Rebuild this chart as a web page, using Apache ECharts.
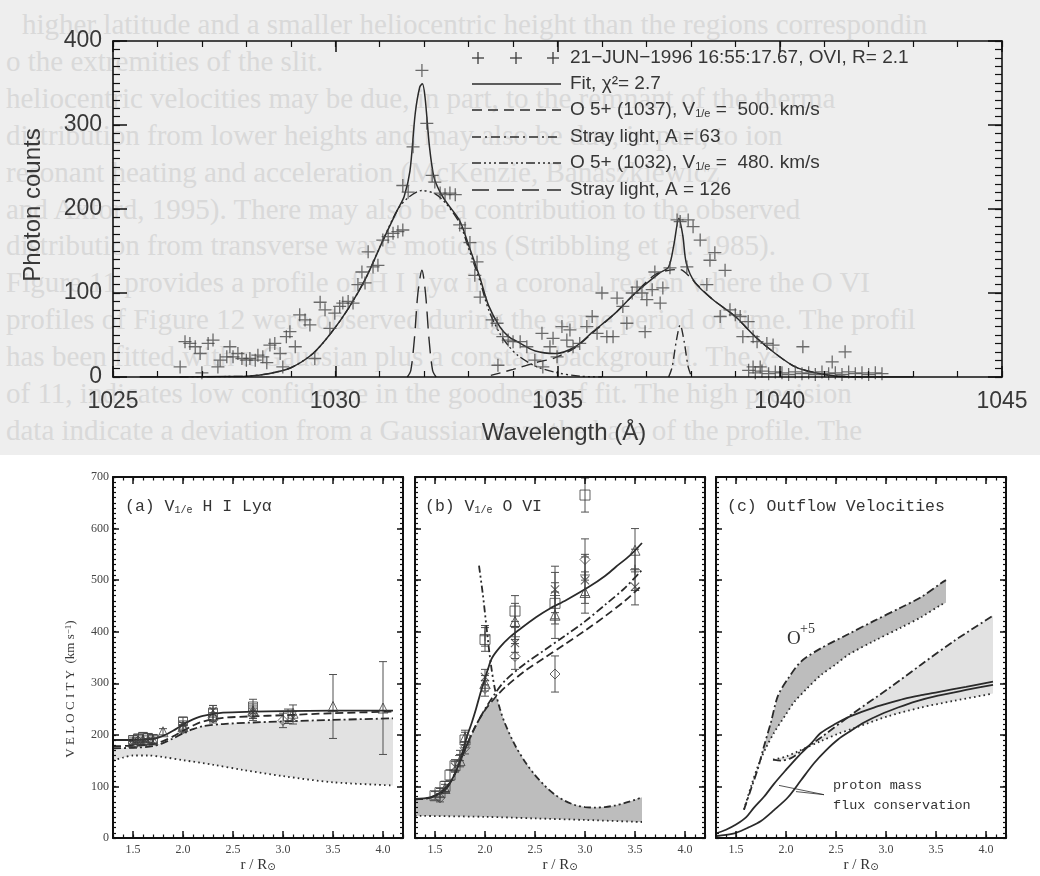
<!DOCTYPE html>
<html>
<head>
<meta charset="utf-8">
<title>O VI spectrum and coronal outflow velocities</title>
<script src="https://cdn.jsdelivr.net/npm/echarts@6/dist/echarts.min.js"></script>
<style>
  html, body { margin: 0; padding: 0; background: #ffffff; }
  #wrap { position: relative; width: 1040px; height: 876px; background: #ffffff; overflow: hidden; }
  #page { position: absolute; left: 0; top: 0; width: 1040px; height: 455px; background: #eeeeee; overflow: hidden;
          font: 29px "Liberation Serif", "DejaVu Serif", serif; color: #d9d9d9; }
  #page div { position: absolute; white-space: nowrap; line-height: 30px; }
  #chart { position: absolute; left: 0; top: 0; width: 1040px; height: 876px; }
</style>
</head>
<body>
<div id="wrap">
  <div id="page"></div>
  <div id="chart"></div>
</div>
<script>
// ---------- Upper panel: O VI doublet spectrum (wavelength in Å, photon counts) ----------
const spectrumPoints = [
  [1026.51,12],[1026.62,42],[1026.73,40],[1026.85,36],[1026.96,28],[1027.0,5],[1027.14,40],[1027.25,44],
  [1027.36,12],[1027.41,20],[1027.56,24],[1027.63,36],[1027.7,24],[1027.81,28],[1027.9,22],[1028.0,20],
  [1028.08,22],[1028.2,20],[1028.26,26],[1028.37,24],[1028.46,17],[1028.53,38],[1028.64,40],[1028.76,28],
  [1028.82,12],[1028.9,48],[1028.98,54],[1029.1,36],[1029.2,74],[1029.32,68],[1029.43,62],[1029.54,22],
  [1029.66,89],[1029.77,80],[1029.88,58],[1029.99,76],[1030.1,84],[1030.17,88],[1030.29,90],[1030.4,88],
  [1030.51,110],[1030.6,125],[1030.67,112],[1030.74,149],[1030.85,131],[1030.96,133],[1031.07,163],
  [1031.19,167],[1031.3,171],[1031.41,173],[1031.52,175],[1031.52,228],[1031.64,220],[1031.75,274],
  [1031.95,365],[1032.06,302],[1032.18,240],[1032.24,232],[1032.36,219],[1032.47,217],[1032.58,219],
  [1032.7,217],[1032.8,181],[1032.92,177],[1033.03,160],[1033.14,121],[1033.19,137],[1033.26,95],
  [1033.53,68],[1033.64,64],[1033.66,14],[1033.77,48],[1033.89,44],[1034.0,42],[1034.16,42],[1034.31,36],
  [1034.49,20],[1034.65,52],[1034.67,12],[1034.83,36],[1034.9,46],[1034.99,24],[1035.1,60],[1035.21,44],
  [1035.28,56],[1035.35,36],[1035.5,40],[1035.66,60],[1035.78,72],[1035.89,52],[1036.0,100],[1036.11,48],
  [1036.25,48],[1036.34,94],[1036.47,84],[1036.56,64],[1036.68,100],[1036.79,107],[1036.9,100],
  [1036.97,54],[1037.01,92],[1037.13,104],[1037.19,125],[1037.31,88],[1037.37,106],[1037.53,130],
  [1037.69,187],[1037.76,185],[1037.91,131],[1037.94,187],[1038.05,179],[1038.21,163],[1038.36,110],
  [1038.43,139],[1038.54,148],[1038.66,72],[1038.77,127],[1038.88,80],[1039.0,74],[1039.11,72],
  [1039.17,48],[1039.29,66],[1039.4,48],[1039.49,42],[1039.71,40],[1039.85,38],[1039.4,12],[1039.56,12],
  [1040.52,36],[1041.18,18],[1041.47,30],
  [1039.3,8],[1039.45,5],[1039.6,7],[1039.75,4],[1039.9,6],[1040.05,5],[1040.2,3],[1040.35,6],[1040.5,4],
  [1040.65,5],[1040.8,3],[1040.95,6],[1041.1,4],[1041.25,5],[1041.4,3],[1041.55,6],[1041.7,4],[1041.85,5],
  [1042.0,3],[1042.15,5],[1042.3,4]
];
const fitCurve = [
  [1025.6,0],[1026.5,0],[1027.5,0.5],[1028,1],[1028.5,4],[1029,11],[1029.5,28],[1029.9,52],[1030.3,82],
  [1030.7,119],[1031.05,160],[1031.4,199],[1031.55,215],[1031.68,245],[1031.8,314],[1031.9,345],
  [1031.96,349],[1032.02,333],[1032.12,274],[1032.22,238],[1032.35,221],[1032.5,208],[1032.8,186],
  [1033.0,157],[1033.25,119],[1033.45,85],[1033.7,60],[1033.9,48],[1034.1,42],[1034.5,31],[1034.95,28],
  [1035.4,36],[1035.8,54],[1036.3,76],[1036.75,100],[1037.3,124],[1037.5,131],[1037.62,158],[1037.73,189],
  [1037.82,168],[1037.9,135],[1038.1,112],[1038.5,92],[1039.0,72],[1039.45,48],[1039.9,28],[1040.35,12],
  [1040.8,5],[1041.3,1],[1042,0],[1043,0]
];
const o5Broad1037 = [
  [1033.5,2],[1034.0,9],[1034.5,17],[1034.95,23],[1035.4,35],[1035.8,53],[1036.3,76],[1036.75,100],
  [1037.2,122],[1037.5,127],[1037.75,128],[1038.0,118],[1038.1,112],[1038.5,92],[1039.0,72],[1039.45,48],
  [1039.9,28],[1040.35,12],[1040.8,5],[1041.3,1],[1042,0]
];
const stray63 = [[1037.5,0],[1037.58,12],[1037.67,42],[1037.76,62],[1037.85,42],[1037.94,12],[1038.02,0]];
const o5Broad1032 = [
  [1026.5,0],[1027.5,0.5],[1028,1],[1028.5,4],[1029,11],[1029.5,28],[1029.9,52],[1030.3,82],[1030.7,119],
  [1031.05,160],[1031.4,199],[1031.65,214],[1031.95,222],[1032.25,218],[1032.5,206],[1032.8,183],
  [1033.0,153],[1033.25,115],[1033.45,80],[1033.7,52],[1033.9,37],[1034.1,26],[1034.5,13],[1035.0,5],
  [1035.5,1],[1036.0,0]
];
const stray126 = [[1031.62,0],[1031.7,8],[1031.78,45],[1031.86,100],[1031.95,127],[1032.03,100],[1032.11,45],[1032.19,8],[1032.27,0]];

// ---------- Lower panels: velocity (km/s) against r / R_sun ----------
const R_TICKS = [1.5, 2.0, 2.5, 3.0, 3.5, 4.0];

// (a) H I Ly-alpha, points as [r, v, error]
const aSquares   = [[1.5,190,8],[1.55,193,8],[1.6,196,8],[1.65,194,8],[1.7,192,8],[2.0,226,8],[2.3,243,14],[2.7,255,14],[3.05,236,14]];
const aTriangles = [[1.5,186,8],[1.6,190,8],[1.7,190,8],[1.8,206,6],[2.0,216,8],[2.3,238,12],[2.7,246,14],[3.1,242,16],[3.5,255,62],[4.0,252,90]];
const aDiamonds  = [[1.55,188,6],[1.65,187,6],[2.0,212,8],[2.3,233,10],[2.7,240,12],[3.0,228,14]];
const aCrosses   = [[1.5,181,6],[1.6,185,6],[1.7,188,6],[2.0,219,8],[2.3,247,10],[2.7,244,12],[3.1,233,12]];
const aSolid   = [[1.3,190],[1.5,190],[1.7,192],[1.8,198],[1.9,208],[2.0,220],[2.1,230],[2.2,237],[2.4,243],[2.7,245],[3.0,246],[3.5,247],[4.1,247]];
const aDashed  = [[1.3,178],[1.5,179],[1.7,182],[1.8,188],[1.9,197],[2.0,208],[2.1,218],[2.2,226],[2.4,233],[2.7,236],[3.0,238],[3.5,242],[4.1,245]];
const aDashDot = [[1.3,174],[1.5,175],[1.7,178],[1.8,184],[1.9,193],[2.0,203],[2.1,211],[2.2,217],[2.4,221],[2.7,224],[3.0,226],[3.5,229],[4.1,232]];
const aDotted  = [[1.3,150],[1.4,156],[1.5,160],[1.65,160],[1.8,157],[2.0,151],[2.3,142],[2.6,132],[3.0,120],[3.5,108],[4.1,102]];

// (b) O VI
const bSquares   = [[1.5,82,8],[1.55,88,8],[1.6,100,10],[1.65,122,10],[1.7,140,12],[1.8,190,15],[2.0,385,23],[2.3,440,30],[2.7,455,40],[3.0,665,33]];
const bTriangles = [[1.6,96,8],[1.75,150,12],[1.8,195,14],[2.0,300,15],[2.3,420,35],[2.7,432,45],[3.0,476,40],[3.5,558,42]];
const bDiamonds  = [[1.55,78,8],[1.8,175,12],[2.0,290,15],[2.3,352,25],[2.7,318,35],[3.0,540,40]];
const bCrosses   = [[1.7,138,10],[2.0,312,15],[2.3,378,30],[2.7,482,45],[3.0,500,45],[3.5,487,35]];
const bPluses    = [[1.75,160,10],[2.0,392,20],[2.3,390,30],[2.7,470,45],[3.0,510,40],[3.5,520,40]];
const bSolid   = [[1.3,76],[1.45,79],[1.55,88],[1.64,105],[1.7,125],[1.74,145],[1.78,170],[1.82,197],[1.87,225],[1.91,250],[1.95,278],[1.99,303],[2.03,328],[2.07,349],[2.15,370],[2.24,388],[2.35,405],[2.51,428],[2.65,445],[2.81,461],[3.04,487],[3.2,508],[3.31,526],[3.45,548],[3.57,572]];
const bDashed  = [[1.3,75],[1.45,78],[1.6,93],[1.7,125],[1.8,172],[1.9,215],[2.0,248],[2.1,272],[2.2,292],[2.4,324],[2.6,350],[2.8,376],[3.0,402],[3.2,430],[3.4,460],[3.57,490]];
const bDashDot = [[1.3,75],[1.45,78],[1.6,93],[1.7,125],[1.8,172],[1.9,215],[2.0,250],[2.1,280],[2.2,305],[2.4,338],[2.6,365],[2.8,392],[3.0,420],[3.2,452],[3.4,485],[3.57,520]];
const bSteep   = [[1.94,528],[1.98,470],[2.02,400],[2.06,335],[2.1,288],[2.15,250],[2.2,222],[2.3,180],[2.4,148],[2.5,122],[2.6,101],[2.7,84],[2.8,72],[2.9,64],[3.0,60],[3.1,59],[3.2,60],[3.3,63],[3.4,68],[3.5,74],[3.57,79]];
const bFillTop = [[1.3,75],[1.45,78],[1.6,93],[1.7,125],[1.8,172],[1.9,215],[2.0,248],[2.08,268],[2.12,272],[2.15,250],[2.2,222],[2.3,180],[2.4,148],[2.5,122],[2.6,101],[2.7,84],[2.8,72],[2.9,64],[3.0,60],[3.1,59],[3.2,60],[3.3,63],[3.4,68],[3.5,74],[3.57,79]];
const bDotted  = [[1.3,43],[2.0,41],[2.5,38],[3.0,35],[3.57,31]];

// (c) outflow velocities
const o5Upper = [[1.58,55],[1.65,95],[1.72,135],[1.78,178],[1.85,225],[1.92,276],[2.02,309],[2.15,342],[2.35,368],[2.62,395],[2.88,421],[3.15,447],[3.35,467],[3.55,494],[3.6,500]];
const o5Lower = [[1.58,55],[1.65,100],[1.73,145],[1.8,175],[1.88,204],[2.0,240],[2.08,263],[2.2,288],[2.35,316],[2.5,337],[2.62,355],[2.88,382],[3.15,408],[3.35,428],[3.55,452],[3.6,456]];
const h0Upper = [[1.87,152],[1.95,150],[2.05,155],[2.15,168],[2.35,195],[2.68,243],[3.02,289],[3.35,336],[3.68,382],[4.07,431]];
const h0Lower = [[1.87,152],[2.0,158],[2.12,168],[2.35,188],[2.52,202],[2.68,213],[3.02,236],[3.35,253],[3.68,266],[4.07,280]];
const protonFluxA = [[1.27,7],[1.4,16],[1.5,26],[1.6,40],[1.68,59],[1.78,80],[1.88,105],[2.0,132],[2.12,158],[2.25,183],[2.35,204],[2.5,222],[2.62,234],[2.75,244],[2.88,253],[3.0,260],[3.18,270],[3.35,277],[3.52,283],[3.8,293],[4.07,303]];
const protonFluxB = [[1.27,3],[1.4,6],[1.5,10],[1.62,20],[1.75,33],[1.88,54],[2.02,79],[2.15,112],[2.28,145],[2.4,170],[2.52,191],[2.65,208],[2.78,224],[2.95,240],[3.12,253],[3.3,265],[3.52,276],[3.8,287],[4.07,297]];
const pointerA = [[2.38,84],[1.93,102]];
const pointerB = [[2.38,84],[2.1,90]];

// Faint lines of body text printed behind the upper figure
const pageText = [
  'higher latitude and a smaller heliocentric height than the regions correspondin',
  'o the extremities of the slit.',
  'heliocentric velocities may be due, in part, to the remnant of the therma',
  'distribution from lower heights and may also be due, in part, to ion',
  'resonant heating and acceleration (McKenzie, Banaszkiewicz',
  'and Axford, 1995). There may also be a contribution to the observed',
  'distribution from transverse wave motions (Stribbling et al. 1985).',
  'Figure 11 provides a profile of H I Lyα in a coronal region where the O VI',
  'profiles of Figure 12 were observed during the same period of time. The profil',
  'has been fitted with a Gaussian plus a constant background. The χ²',
  'of 11, indicates low confidence in the goodness of fit. The high precision',
  'data indicate a deviation from a Gaussian near the base of the profile. The'
];

// print the faint page text in the layer behind the chart canvas
const pageEl = document.getElementById('page');
pageText.forEach((t, i) => {
  const d = document.createElement('div');
  d.textContent = t;
  d.style.left = (i === 0 ? 22 : 6) + 'px';
  d.style.top = (24 + i * 36.9 - 15) + 'px';
  pageEl.appendChild(d);
});

// ---------- styling helpers ----------
const SANS = '"Liberation Sans", Arial, sans-serif';
const SERIF = '"Liberation Serif", "DejaVu Serif", serif';
const MONO = '"Liberation Mono", "DejaVu Sans Mono", monospace';
const AX = '#111111';
const INK = '#2a2a2a';
const MARK = '#3c3c3c';
const DASH = [10, 6], DASHDOT = [9, 4, 2, 4], DASH3DOT = [9, 3, 2, 3, 2, 3, 2, 3], LONGDASH = [17, 8];
const P_DASH = [8, 4], P_DASHDOT = [8, 3, 2, 3], P_DASH3DOT = [7, 3, 2, 3, 2, 3], P_DOT = [1.6, 3.2];

const PLUS = 'path://M0,5.4H12V6.6H0Z M5.4,0H6.6V12H5.4Z';
const CROSS = 'path://M0,1L1,0L12,11L11,12Z M11,0L12,1L1,12L0,11Z';

function curve(data, xi, yi, dash, width, smooth) {
  return {
    type: 'line', data, xAxisIndex: xi, yAxisIndex: yi, showSymbol: false, symbol: 'none',
    smooth: smooth === undefined ? 0.3 : smooth, silent: true, z: 5,
    lineStyle: { color: INK, width: width || 1.6, type: dash || 'solid', cap: 'butt' }
  };
}
function points(data, xi, yi, symbol, size, hollow) {
  return {
    type: 'scatter', data: data.map(d => [d[0], d[1]]), xAxisIndex: xi, yAxisIndex: yi,
    symbol, symbolSize: size, silent: true, z: 6,
    itemStyle: hollow ? { color: 'rgba(0,0,0,0)', borderColor: MARK, borderWidth: 1 } : { color: MARK }
  };
}
function errorBars(data, xi, yi) {
  return {
    type: 'custom', data, xAxisIndex: xi, yAxisIndex: yi, encode: { x: 0, y: 1 }, silent: true, z: 4,
    renderItem(params, api) {
      const x = api.value(0), y = api.value(1), e = api.value(2);
      const hi = api.coord([x, y + e]), lo = api.coord([x, y - e]);
      const c = 4, st = { stroke: '#505050', lineWidth: 1 };
      return { type: 'group', children: [
        { type: 'line', shape: { x1: hi[0], y1: hi[1], x2: lo[0], y2: lo[1] }, style: st },
        { type: 'line', shape: { x1: hi[0] - c, y1: hi[1], x2: hi[0] + c, y2: hi[1] }, style: st },
        { type: 'line', shape: { x1: lo[0] - c, y1: lo[1], x2: lo[0] + c, y2: lo[1] }, style: st }
      ] };
    }
  };
}
function band(upper, lower, color, xi, yi) {
  return {
    type: 'custom', data: [upper[0]], xAxisIndex: xi, yAxisIndex: yi, encode: { x: 0, y: 1 }, silent: true, z: 1,
    renderItem(params, api) {
      const pts = upper.map(p => api.coord(p)).concat(lower.slice().reverse().map(p => api.coord(p)));
      return { type: 'polygon', shape: { points: pts }, style: { fill: color } };
    }
  };
}

// Axis factory: a "major" axis carries the frame line, long ticks and labels;
// a "minor" companion on the same side only adds the short ticks.
function makeAxis(o) {
  const ax = {
    type: 'value', gridIndex: o.grid, position: o.pos, min: o.min, max: o.max, interval: o.interval, z: 10,
    splitLine: { show: false },
    axisLine: { show: !!o.major, onZero: false, lineStyle: { color: AX, width: o.lineWidth || 1.6 } },
    axisTick: { show: true, inside: true, length: o.tickLen, lineStyle: { color: AX, width: o.major ? 1.5 : 1.2 } },
    axisLabel: { show: false }
  };
  if (o.customTicks) ax.axisTick.customValues = o.customTicks;
  if (o.label) ax.axisLabel = Object.assign({ show: true }, o.label);
  return ax;
}
const topLabel = { fontSize: 23, fontFamily: SANS, color: '#383838', formatter: v => String(v) };

function topXPair(pos, labels) {
  return [
    makeAxis({ grid: 0, pos, min: 1025, max: 1045, interval: 5, major: true, tickLen: 11,
      label: labels ? Object.assign({ margin: 13 }, topLabel) : null }),
    makeAxis({ grid: 0, pos, min: 1025, max: 1045, interval: 1, tickLen: 6 })
  ];
}
function topYPair(pos, labels) {
  return [
    makeAxis({ grid: 0, pos, min: 0, max: 400, interval: 100, major: true, tickLen: 14,
      label: labels ? Object.assign({ margin: 11 }, topLabel) : null }),
    makeAxis({ grid: 0, pos, min: 0, max: 400, interval: 10, tickLen: 7 })
  ];
}
const panelLabel = { fontFamily: SERIF, fontSize: 12, color: '#444' };
function panelXPair(grid, pos, labels) {
  return [
    makeAxis({ grid, pos, min: 1.3, max: 4.2, interval: 0.1, major: true, tickLen: 7, lineWidth: 2,
      customTicks: R_TICKS,
      label: labels ? Object.assign({ margin: 6, customValues: R_TICKS, formatter: v => Number(v).toFixed(1) }, panelLabel) : null }),
    makeAxis({ grid, pos, min: 1.3, max: 4.2, interval: 0.1, tickLen: 3.5 })
  ];
}
function panelYPair(grid, pos, labels) {
  return [
    makeAxis({ grid, pos, min: 0, max: 700, interval: 100, major: true, tickLen: 6, lineWidth: 2,
      label: labels ? Object.assign({ margin: 4 }, panelLabel) : null }),
    makeAxis({ grid, pos, min: 0, max: 700, interval: 10, tickLen: 3 })
  ];
}

// ---------- axis titles, legend and annotations ----------
const graphics = [];
graphics.push({ type: 'text', x: 33, y: 205, rotation: Math.PI / 2, silent: true,
  style: { text: 'Photon counts', font: '24px ' + SANS, fill: '#383838', textAlign: 'center', textVerticalAlign: 'middle' } });
graphics.push({ type: 'text', x: 564, y: 433, silent: true,
  style: { text: 'Wavelength (Å)', font: '24px ' + SANS, fill: '#383838', textAlign: 'center', textVerticalAlign: 'middle' } });

const legendRows = [
  { y: 58,  dash: null, text: '21\u2212JUN\u22121996 16:55:17.67, OVI, R= 2.1' },
  { y: 84,  dash: 'solid', text: 'Fit, \u03c7\u00b2= 2.7' },
  { y: 110, dash: DASH, text: 'O 5+ (1037), V{s|1/e} =  500. km/s' },
  { y: 137, dash: DASHDOT, text: 'Stray light, A = 63' },
  { y: 163, dash: DASH3DOT, text: 'O 5+ (1032), V{s|1/e} =  480. km/s' },
  { y: 190, dash: LONGDASH, text: 'Stray light, A = 126' }
];
legendRows.forEach(row => {
  if (row.dash) {
    graphics.push({ type: 'line', silent: true, shape: { x1: 472, y1: row.y, x2: 561, y2: row.y },
      style: { stroke: INK, lineWidth: 1.5, lineDash: row.dash === 'solid' ? null : row.dash } });
  } else {
    [478, 516, 553].forEach(px => {
      graphics.push({ type: 'line', silent: true, shape: { x1: px - 6, y1: row.y, x2: px + 6, y2: row.y }, style: { stroke: MARK, lineWidth: 1.3 } });
      graphics.push({ type: 'line', silent: true, shape: { x1: px, y1: row.y - 6, x2: px, y2: row.y + 6 }, style: { stroke: MARK, lineWidth: 1.3 } });
    });
  }
  graphics.push({ type: 'text', x: 570, y: row.y, silent: true,
    style: { text: row.text, font: '19px ' + SANS, fill: '#363636', textVerticalAlign: 'middle',
      rich: { s: { fontSize: 11, fontFamily: SANS, fill: '#363636', verticalAlign: 'bottom', lineHeight: 11 } } } });
});

// lower panel titles
[
  { x: 125, text: '(a) V{s|1/e} H I Ly\u03b1' },
  { x: 425, text: '(b) V{s|1/e} O VI' },
  { x: 727, text: '(c) Outflow Velocities' }
].forEach(t => {
  graphics.push({ type: 'text', x: t.x, y: 507, silent: true,
    style: { text: t.text, font: '16.5px ' + MONO, fill: '#333', textVerticalAlign: 'middle',
      rich: { s: { fontSize: 10, fontFamily: MONO, fill: '#333', verticalAlign: 'bottom', lineHeight: 10 } } } });
});
graphics.push({ type: 'text', x: 71, y: 689, rotation: Math.PI / 2, silent: true,
  style: { text: 'V E L O C I T Y  (km s{u|\u22121})', font: '13px ' + SERIF, fill: '#3a3a3a',
    textAlign: 'center', textVerticalAlign: 'middle',
    rich: { u: { fontSize: 9, fontFamily: SERIF, fill: '#3a3a3a', verticalAlign: 'top', lineHeight: 9 } } } });
[258, 560, 861].forEach(cx => {
  graphics.push({ type: 'text', x: cx, y: 865, silent: true,
    style: { text: 'r / R{s|\u2299}', font: '15px ' + SERIF, fill: '#333', textAlign: 'center', textVerticalAlign: 'middle',
      rich: { s: { fontSize: 10, fontFamily: '"DejaVu Sans", sans-serif', fill: '#333', verticalAlign: 'bottom', lineHeight: 10 } } } });
});
// panel (c) annotations
graphics.push({ type: 'text', x: 787, y: 639, silent: true, style: { text: 'O', font: '19px ' + SERIF, fill: '#333', textVerticalAlign: 'middle' } });
graphics.push({ type: 'text', x: 800, y: 629, silent: true, style: { text: '+5', font: '14px ' + SERIF, fill: '#333', textVerticalAlign: 'middle' } });
graphics.push({ type: 'text', x: 950, y: 670, silent: true, style: { text: 'H', font: '19px ' + SERIF, fill: '#333', textVerticalAlign: 'middle' } });
graphics.push({ type: 'text', x: 964, y: 662, silent: true, style: { text: '0', font: '14px ' + SERIF, fill: '#333', textVerticalAlign: 'middle' } });
graphics.push({ type: 'text', x: 833, y: 785, silent: true, style: { text: 'proton mass', font: '13.5px ' + MONO, fill: '#333', textVerticalAlign: 'middle' } });
graphics.push({ type: 'text', x: 833, y: 805, silent: true, style: { text: 'flux conservation', font: '13.5px ' + MONO, fill: '#333', textVerticalAlign: 'middle' } });

// ---------- assemble ----------
// xAxis: 0-3 spectrum (bottom major/minor, top major/minor), 4-7 panel a, 8-11 panel b, 12-15 panel c
// yAxis: 0-3 spectrum (left major/minor, right major/minor), 4-7 panel a, 8-11 panel b, 12-15 panel c
const xAxes = [].concat(
  topXPair('bottom', true), topXPair('top', false),
  panelXPair(1, 'bottom', true), panelXPair(1, 'top', false),
  panelXPair(2, 'bottom', true), panelXPair(2, 'top', false),
  panelXPair(3, 'bottom', true), panelXPair(3, 'top', false)
);
const yAxes = [].concat(
  topYPair('left', true), topYPair('right', false),
  panelYPair(1, 'left', true), panelYPair(1, 'right', false),
  panelYPair(2, 'left', false), panelYPair(2, 'right', false),
  panelYPair(3, 'left', false), panelYPair(3, 'right', false)
);

const option = {
  animation: false,
  backgroundColor: 'rgba(0,0,0,0)',
  textStyle: { fontFamily: SANS },
  grid: [
    { left: 113, top: 41, width: 889, height: 336 },
    { left: 113, top: 477, width: 290, height: 361 },
    { left: 415, top: 477, width: 290, height: 361 },
    { left: 716, top: 477, width: 290, height: 361 }
  ],
  xAxis: xAxes,
  yAxis: yAxes,
  graphic: { elements: graphics },
  series: [
    // spectrum
    curve(o5Broad1032, 0, 0, DASH3DOT, 1.4),
    curve(o5Broad1037, 0, 0, DASH, 1.4),
    curve(stray126, 0, 0, LONGDASH, 1.4),
    curve(stray63, 0, 0, DASHDOT, 1.4),
    curve(fitCurve, 0, 0, 'solid', 1.5),
    { type: 'scatter', data: spectrumPoints, xAxisIndex: 0, yAxisIndex: 0, symbol: PLUS, symbolSize: 13,
      silent: true, z: 6, itemStyle: { color: '#484848' } },

    // (a)
    band(aDashDot, aDotted, '#e2e2e2', 4, 4),
    curve(aDotted, 4, 4, P_DOT, 1.8),
    curve(aDashDot, 4, 4, P_DASHDOT, 1.8),
    curve(aDashed, 4, 4, P_DASH, 1.8),
    curve(aSolid, 4, 4, 'solid', 1.8),
    errorBars(aSquares, 4, 4), errorBars(aTriangles, 4, 4), errorBars(aDiamonds, 4, 4), errorBars(aCrosses, 4, 4),
    points(aSquares, 4, 4, 'rect', 9, true),
    points(aTriangles, 4, 4, 'triangle', 10, true),
    points(aDiamonds, 4, 4, 'diamond', 10, true),
    points(aCrosses, 4, 4, CROSS, 8, false),

    // (b)
    band(bFillTop, bDotted, '#bdbdbd', 8, 8),
    curve(bDotted, 8, 8, P_DOT, 1.8),
    curve(bSteep, 8, 8, P_DASH3DOT, 1.8),
    curve(bDashDot, 8, 8, P_DASHDOT, 1.8),
    curve(bDashed, 8, 8, P_DASH, 1.8),
    curve(bSolid, 8, 8, 'solid', 1.8),
    errorBars(bSquares, 8, 8), errorBars(bTriangles, 8, 8), errorBars(bDiamonds, 8, 8), errorBars(bCrosses, 8, 8), errorBars(bPluses, 8, 8),
    points(bSquares, 8, 8, 'rect', 10, true),
    points(bTriangles, 8, 8, 'triangle', 10, true),
    points(bDiamonds, 8, 8, 'diamond', 10, true),
    points(bCrosses, 8, 8, CROSS, 9, false),
    points(bPluses, 8, 8, PLUS, 10, false),

    // (c)
    band(o5Upper, o5Lower, '#bdbdbd', 12, 12),
    band(h0Upper, h0Lower, '#e2e2e2', 12, 12),
    curve(o5Lower, 12, 12, P_DOT, 1.8),
    curve(o5Upper, 12, 12, P_DASHDOT, 1.8),
    curve(h0Lower, 12, 12, P_DOT, 1.8),
    curve(h0Upper, 12, 12, P_DASHDOT, 1.8),
    curve(protonFluxA, 12, 12, 'solid', 1.8),
    curve(protonFluxB, 12, 12, 'solid', 1.8),
    curve(pointerA, 12, 12, 'solid', 0.8, false),
    curve(pointerB, 12, 12, 'solid', 0.8, false)
  ]
};

const chart = echarts.init(document.getElementById('chart'), null, { renderer: 'canvas' });
chart.setOption(option);
</script>
</body>
</html>
